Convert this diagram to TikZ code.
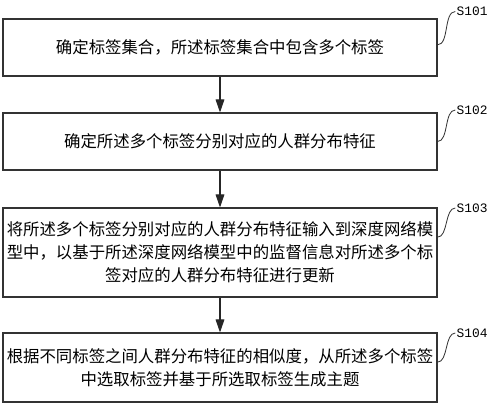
\documentclass[tikz,border=0pt]{standalone}
\usepackage{fontspec}
\usepackage{tikz}
\usetikzlibrary{arrows.meta,positioning,calc}
\newfontfamily\cjk{Noto Sans CJK SC}
\setmonofont{Liberation Mono}

\begin{document}
\begin{tikzpicture}[
  box/.style={draw=black!80, line width=0.9pt, minimum width=13.02cm, align=center, inner xsep=1pt,
    font=\cjk\fontsize{14}{19.5}\selectfont},
  tag/.style={anchor=west, inner sep=1pt, font=\ttfamily\fontsize{11}{12}\selectfont},
  arrow/.style={-{Triangle[length=0.39cm, width=0.26cm]}, line width=0.9pt, black!85},
  curl/.style={line width=0.7pt, black!80, out=0, in=180, looseness=0.8}
]
\useasboundingbox (0,0) rectangle (15.06,12.27);

\node[box, minimum height=1.71cm] (b101) at (6.6,10.845) {确定标签集合，所述标签集合中包含多个标签};
\node[box, minimum height=1.71cm] (b102) at (6.6,8.025) {确定所述多个标签分别对应的人群分布特征};
\node[box, minimum height=2.67cm] (b103) at (6.6,4.695) {将所述多个标签分别对应的人群分布特征输入到深度网络模\\型中，以基于所述深度网络模型中的监督信息对所述多个标\\签对应的人群分布特征进行更新};
\node[box, minimum height=2.07cm] (b104) at (6.6,1.245) {根据不同标签之间人群分布特征的相似度，从所述多个标签\\中选取标签并基于所选取标签生成主题};

\node[tag] (s101) at (13.66,11.925) {S101};
\node[tag] (s102) at (13.66,8.97) {S102};
\node[tag] (s103) at (13.66,6.03) {S103};
\node[tag] (s104) at (13.66,2.28) {S104};

\draw[arrow] (b101) -- (b102);
\draw[arrow] (b102) -- (b103);
\draw[arrow] (b103) -- (b104);

% leaders to step numbers
\draw[curl] ($(b101.east)+(0,0.08)$) to (s101.west);
\draw[curl] (b102.east) to (s102.west);
\draw[curl] ($(b103.east)+(0,0.46)$) to (s103.west);
\draw[curl] ($(b104.east)+(0,0.16)$) to (s104.west);
\end{tikzpicture}
\end{document}
